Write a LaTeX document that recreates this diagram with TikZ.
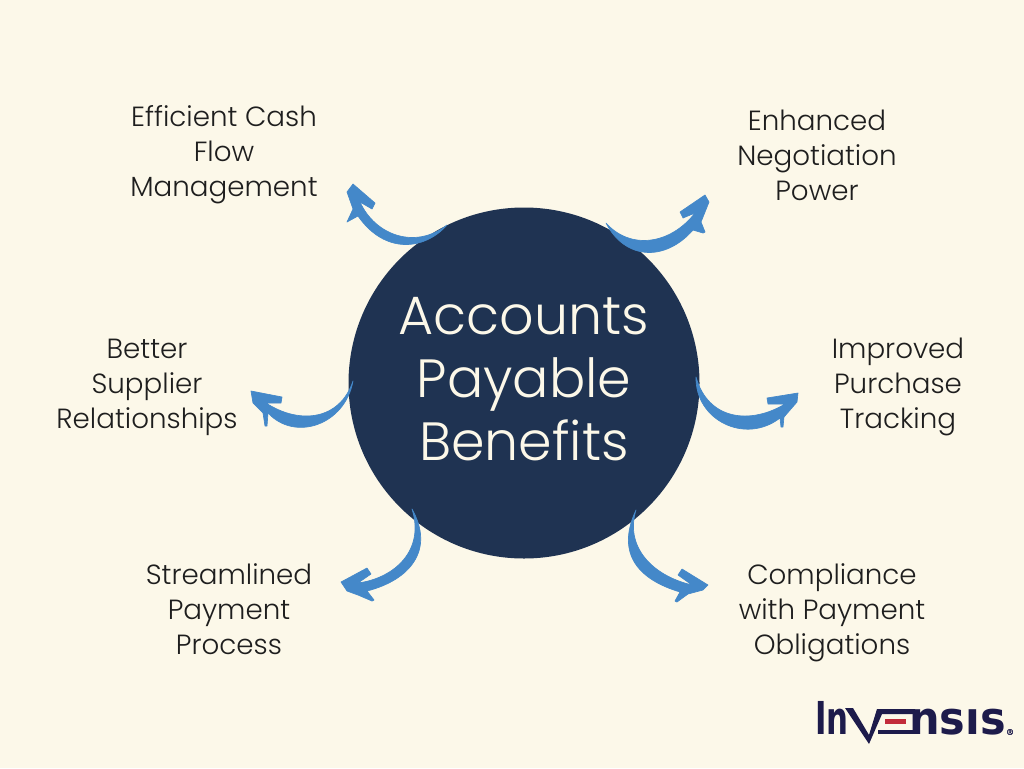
\documentclass[tikz,border=0pt]{standalone}
\usepackage{fontspec}
\setmainfont{Poppins Light}
\newfontfamily\logofont[FakeBold=1.2]{DejaVu Sans}
\newfontfamily\logonarrow[FakeStretch=0.68]{DejaVu Sans Bold}
\newfontfamily\logowide[FakeStretch=0.95]{DejaVu Sans Bold}
\definecolor{bgc}{HTML}{FCF8E9}
\definecolor{navy}{HTML}{1F3352}
\definecolor{arrowc}{HTML}{4488C9}
\definecolor{inkc}{HTML}{1E1E1E}
\definecolor{logoc}{HTML}{1D1B4B}
\definecolor{logored}{HTML}{C22B3A}
\tikzset{
  benefit/.style={align=center,text=inkc,inner sep=0pt,font=\fontsize{20.8}{26.25}\selectfont},
  curvearrow/.style={fill=arrowc,draw=arrowc,line width=0.5pt,line join=round},
  logotext/.style={text=logoc,inner sep=0pt,anchor=base west},
}
\begin{document}
\begin{tikzpicture}[x=0.75pt,y=-0.75pt]
\useasboundingbox (0,0) rectangle (1024,768);
\fill[bgc] (0,0) rectangle (1024,768);
\node[circle,fill=navy,minimum size=263.25pt,inner sep=0pt] (hub) at (524,383) {};
\node[align=center,text=bgc,inner sep=0pt,font=\fontsize{40.4}{47.25}\selectfont] (title) at (524,379) {Accounts\\Payable\\Benefits};
\node[benefit] (b1) at (224,155) {Efficient Cash\\Flow\\Management};
\node[benefit] (b2) at (817,155) {Enhanced\\Negotiation\\Power};
\node[benefit] (b3) at (898,387) {Improved\\Purchase\\Tracking};
\node[benefit] (b4) at (832,613) {Compliance\\with Payment\\Obligations};
\node[benefit] (b5) at (229,609) {Streamlined\\Payment\\Process};
\node[benefit] (b6) at (147,387) {Better\\Supplier\\Relationships};
% top-left
\fill[curvearrow] (447,225) .. controls (425,250) and (385,255) .. (358,216) -- (347,222) -- (353,209) -- (347,192) -- (353,184) -- (375,203) -- (372,209) -- (360,202) .. controls (375,235) and (415,250) .. (447,225) -- cycle;
% top-right
\fill[curvearrow] (606,223) .. controls (625,260) and (665,262) .. (693,230) -- (703,233) -- (705,232) -- (701,222) -- (709,202) -- (705,195) -- (680,212) -- (683,218) -- (695,213) .. controls (670,245) and (630,250) .. (606,223) -- cycle;
% right
\fill[curvearrow] (696,377) .. controls (695,420) and (745,445) .. (780,418) -- (781,427) -- (783,427) -- (784,417) -- (797,402) -- (798,393) -- (767,398) -- (768,404) -- (785,404) .. controls (750,425) and (708,420) .. (696,377) -- cycle;
% bottom-right
\fill[curvearrow] (636,510) .. controls (615,555) and (640,580) .. (680,592) -- (675,601) -- (677,602) -- (688,594) -- (703,590) -- (708,585) -- (682,569) -- (678,575) -- (692,585) .. controls (650,575) and (625,545) .. (636,510) -- cycle;
% bottom-left
\fill[curvearrow] (412,509) .. controls (435,550) and (410,580) .. (367,591) -- (374,600) -- (372,601) -- (358,595) -- (347,591) -- (341,582) -- (367,568) -- (371,574) -- (358,583) .. controls (395,578) and (425,550) .. (412,509) -- cycle;
% left
\fill[curvearrow] (353,381) .. controls (345,425) and (295,442) .. (268,413) -- (267,426) -- (265,426) -- (263,413) -- (253,403) -- (251,391) -- (282,397) -- (281,403) -- (266,403) .. controls (300,425) and (340,420) .. (353,381) -- cycle;
% logo
\node[logotext,font=\logonarrow\fontsize{34}{34}\selectfont] (logoa) at (815,734) {In};
\fill[logoc] (845,708) -- (853,708) -- (869,735) -- (877,709) -- (915,709) -- (915,714) -- (882,714) -- (869,744) -- cycle;
\fill[logored] (885,719) rectangle (906,724);
\fill[logoc] (878,729.5) rectangle (915,734);
\node[logotext,font=\logowide\fontsize{34}{34}\selectfont] (logob) at (909,734) {nsıs};
\node[text=logoc,inner sep=0pt,font=\logofont\fontsize{6}{6}\selectfont] (logor) at (1010,732) {®};
\end{tikzpicture}
\end{document}
